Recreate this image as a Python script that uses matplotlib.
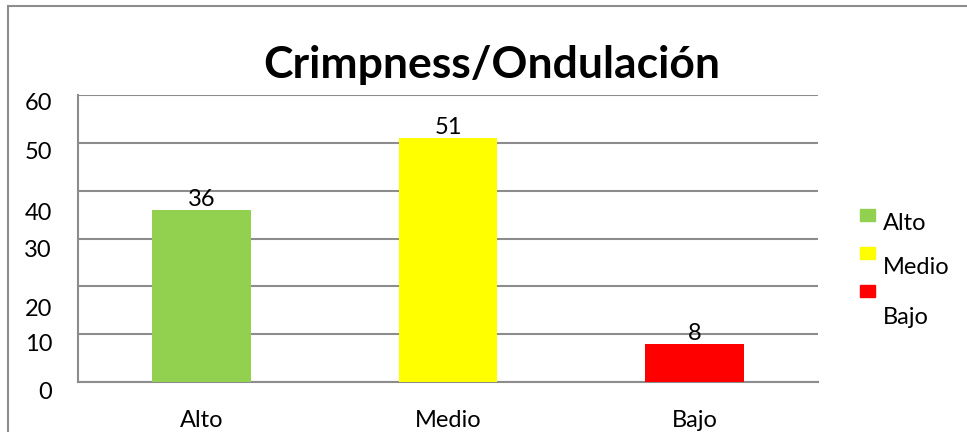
import numpy as np
import matplotlib.pyplot as plt
from matplotlib.patches import Rectangle
from matplotlib.transforms import ScaledTranslation, blended_transform_factory

plt.rcParams['font.family'] = ['Lato', 'DejaVu Sans']

categories = ['Alto', 'Medio', 'Bajo']
values = [36, 51, 8]
colors = ['#92D050', '#FFFF00', '#FF0000']
yticks = [0, 10, 20, 30, 40, 50, 60]
# the source chart draws its y labels a bit off the gridlines (pixels down)
ylabel_shift = [10, 10, 23, 12, 23, 10, 9]

fig = plt.figure(figsize=(9.67, 4.32), dpi=100)
ax = fig.add_axes([0.0807, 0.1157, 0.7652, 0.6644])

x = np.arange(len(categories))
ax.bar(x, values, width=0.4, color=colors, zorder=3)
for xi, v in zip(x, values):
    ax.text(xi, v, str(v), ha='center', va='bottom', fontsize=17, zorder=4)

ax.set_xlim(-0.5, len(categories) - 0.5)
ax.set_ylim(0, 60)
ax.set_yticks(yticks)
ax.set_yticklabels([])
ax.tick_params(axis='y', length=0)
ax.grid(axis='y', color='#8c8c8c', linewidth=1.5, zorder=1)
ax.set_xticks(x)
ax.set_xticklabels(categories, fontsize=17)
ax.tick_params(axis='x', length=0, pad=20)

trans = blended_transform_factory(ax.transAxes, ax.transData)
for t, s in zip(yticks, ylabel_shift):
    off = ScaledTranslation(-26 / 100, -s / 100, fig.dpi_scale_trans)
    ax.text(0, t, str(t), ha='right', va='center', fontsize=17, transform=trans + off)

for side in ['top', 'right']:
    ax.spines[side].set_visible(False)
for side in ['left', 'bottom']:
    ax.spines[side].set_color('#8c8c8c')
    ax.spines[side].set_linewidth(1.5)

fig.text(0.509, 0.85, 'Crimpness/Ondulación', ha='center', va='center',
         fontsize=32, fontweight='bold')

# legend, drawn by hand to keep the odd text placement
box_y = [209, 247, 285]
text_y = [224, 268, 318]
for cat, col, by, ty in zip(categories, colors, box_y, text_y):
    fig.patches.append(Rectangle((860 / 967, 1 - (by + 12) / 432), 15 / 967, 12 / 432,
                                 transform=fig.transFigure, color=col))
    fig.text(883 / 967, 1 - ty / 432, cat, ha='left', va='center', fontsize=17)

# outer chart frame
fig.patches.append(Rectangle((8 / 967, -0.05), 1.1, 1 - 6 / 432 + 0.05,
                             transform=fig.transFigure, fill=False,
                             edgecolor='#8c8c8c', linewidth=1.5))

fig.savefig('out.png', dpi=100)
